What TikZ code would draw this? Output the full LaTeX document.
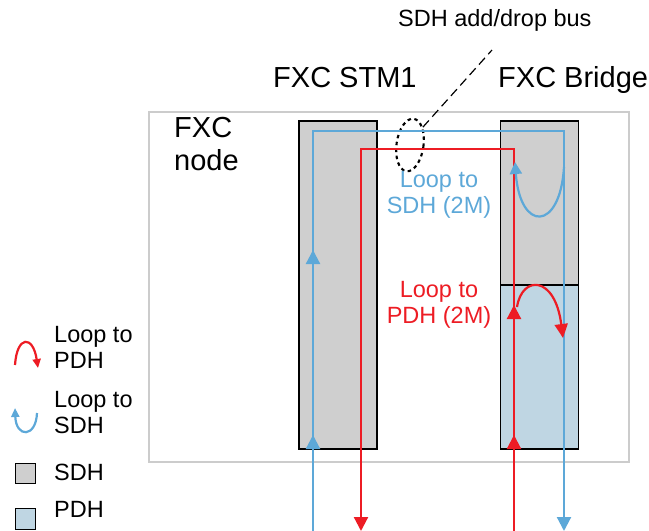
\documentclass[tikz,border=0pt]{standalone}
\usepackage{fontspec}
\setmainfont{Liberation Sans}
\usetikzlibrary{arrows.meta,shapes.geometric,decorations.markings}
\definecolor{sdhblue}{RGB}{93,168,216}
\definecolor{pdhred}{RGB}{237,28,36}
\definecolor{sdhgray}{RGB}{207,207,207}
\definecolor{pdhfill}{RGB}{191,214,227}

\begin{document}
\begin{tikzpicture}[x=1pt, y=-1pt,
	frame/.style = {rectangle, draw=black!20, line width=1.8pt, inner sep=0, minimum width=480, minimum height=350},
	s/.style = {rectangle, draw=black, fill=sdhgray, line width=1.1pt, inner sep=0, minimum width=78, minimum height=164},
	p/.style = {s, fill=pdhfill},
	b/.style = {draw=sdhblue, line width=2.2pt},
	r/.style = {draw=pdhred, line width=2.2pt},
	tip/.style = {-{Triangle[width=14pt,length=14pt]}},
	small/.style = {line width=2.2pt, -{Triangle[width=8pt,length=9pt]}},
	up/.style 2 args = {postaction={decorate, decoration={markings,
		mark=at position #1 with {\arrow{Triangle[width=14pt,length=14pt]}},
		mark=at position #2 with {\arrow{Triangle[width=14pt,length=14pt]}}}}},
	t/.style = {inner sep=0, anchor=base west, align=left, font=\fontsize{23.5}{26}\selectfont},
	big/.style = {t, font=\fontsize{29}{33}\selectfont},
	bus/.style = {ellipse, draw=black, line width=2.1pt, dash pattern=on 3.5pt off 3.5pt, minimum width=27, minimum height=53, inner sep=0}
	]
	\useasboundingbox (0,0) rectangle (649,531);

	%Nodes
	\node[frame]			(fxc)	at (389,287)	{};
	\node[s, minimum height=328]	(stm)	at (338,285)	{};
	\node[s]			(brgS)	at (539.5,203)	{};
	\node[p]			(brgP)	at (539.5,367)	{};
	\node[bus, rotate=-8]		(bus)	at (410,145)	{};

	\node[t]	(busl)	at (398,26)	{SDH add/drop bus};
	\node[big]	(stmT)	at (273,87)	{FXC STM1};
	\node[big]	(brgT)	at (498,87)	{FXC Bridge};
	\node[big]	(fxcT)	at (174,170)	{FXC\\node};
	\node[t, anchor=base, align=center, text=sdhblue]	(sdhL)	at (439,213)	{Loop to\\SDH (2M)};
	\node[t, anchor=base, align=center, text=pdhred]	(pdhL)	at (439,323)	{Loop to\\PDH (2M)};

	%Legend
	\node[t]	(lgP)	at (54,368)	{Loop to\\PDH};
	\node[t]	(lgS)	at (54,433)	{Loop to\\SDH};
	\node[t]	(lgG)	at (54,480)	{SDH};
	\node[t]	(lgB)	at (54,517)	{PDH};
	\node[s, minimum width=20, minimum height=20, line width=1pt]	(sqG)	at (25.5,473.5)	{};
	\node[p, minimum width=20, minimum height=21, line width=1pt]	(sqB)	at (25.5,519)	{};

	%Ends
	\coordinate (bIn)	at (313,531);
	\coordinate (bTop)	at (564,131);
	\coordinate (bOut)	at (564,531);
	\coordinate (rIn)	at (514,531);
	\coordinate (rTop)	at (361,149);
	\coordinate (rOut)	at (361,531);
	\coordinate (busEnd)	at (492,50);

	%Lines
	\draw[b, tip, up={96pt}{281pt}]	(bIn) |- (bTop) -- (bOut);
	\draw[r, tip, up={96pt}{226pt}]	(rIn) |- (rTop) -- (rOut);
	\draw[b, -{Triangle[width=12pt,length=12pt]}]	(564,167) .. controls (560,232) and (520,232) .. (515,162);
	\draw[r, -{Triangle[width=13pt,length=14pt]}]	(517,307) .. controls (522,275) and (555,275) .. (563,338);
	\draw[black, line width=1.2pt, dash pattern=on 9pt off 5pt]	(bus.north east) -- (busEnd);

	\draw[pdhred, small]	(15,365) .. controls (17,335) and (33,335) .. (38,368);
	\draw[sdhblue, small]	(37,413) .. controls (36,438) and (16,438) .. (15,408);
\end{tikzpicture}
\end{document}
